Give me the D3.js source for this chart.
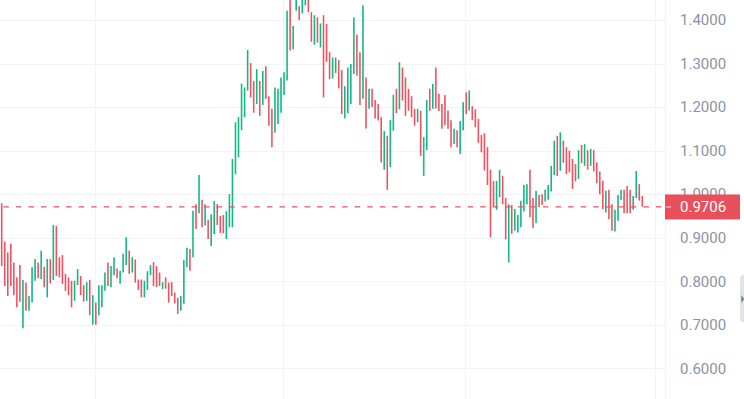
<!DOCTYPE html>
<html><head><meta charset="utf-8">
<script src="https://cdn.jsdelivr.net/npm/d3@7"></script>
<style>
html,body{margin:0;padding:0;background:#fff;overflow:hidden}
svg{display:block}
</style></head>
<body>
<svg id="c" width="744" height="399"></svg>
<script>
// Bar highs and lows (price), one entry per session
const highs = [
0.979,0.891,0.866,0.886,0.843,0.809,0.837,0.803,0.797,0.766,0.832,0.851,0.843,0.870,0.833,0.851,0.851,0.929,0.927,0.855,
0.860,0.817,0.809,0.801,0.801,0.828,0.812,0.791,0.798,0.803,0.768,0.751,0.791,0.791,0.820,0.843,0.835,0.855,0.829,0.824,
0.863,0.901,0.870,0.855,0.850,0.804,0.804,0.801,0.823,0.837,0.844,0.835,0.820,0.798,0.809,0.797,0.798,0.774,0.762,0.766,
0.849,0.877,0.874,0.962,0.977,1.044,0.987,0.977,0.941,0.954,0.984,0.977,0.950,0.952,0.961,1.000,1.081,1.165,1.177,1.254,
1.245,1.331,1.301,1.260,1.287,1.260,1.283,1.294,1.225,1.196,1.245,1.242,1.268,1.280,1.421,1.464,1.386,1.460,1.432,1.469,
1.455,1.464,1.418,1.411,1.406,1.392,1.411,1.391,1.326,1.314,1.314,1.308,1.285,1.248,1.291,1.299,1.406,1.366,1.326,1.434,
1.268,1.242,1.242,1.216,1.207,1.177,1.145,1.134,1.170,1.228,1.242,1.303,1.291,1.268,1.242,1.225,1.196,1.196,1.191,1.131,
1.216,1.242,1.253,1.291,1.230,1.207,1.228,1.192,1.170,1.150,1.147,1.168,1.211,1.234,1.238,1.202,1.195,1.173,1.136,1.140,
1.108,1.056,1.030,1.030,1.056,1.042,0.991,0.977,0.975,0.966,0.952,0.985,1.021,1.023,1.056,0.991,1.008,0.998,1.000,1.010,
1.021,1.065,1.123,1.134,1.142,1.123,1.108,1.100,1.081,1.069,1.101,1.113,1.115,1.101,1.104,1.101,1.073,1.052,1.031,1.008,
1.010,0.977,0.964,0.998,1.010,1.010,1.019,1.010,0.996,1.053,1.023,0.996
];
const lows = [
0.835,0.789,0.766,0.789,0.768,0.740,0.753,0.692,0.732,0.732,0.751,0.801,0.807,0.805,0.786,0.763,0.795,0.803,0.812,0.809,
0.794,0.778,0.768,0.740,0.755,0.791,0.768,0.753,0.755,0.722,0.700,0.700,0.722,0.740,0.778,0.789,0.786,0.814,0.807,0.794,
0.820,0.837,0.817,0.820,0.797,0.780,0.763,0.763,0.780,0.814,0.789,0.787,0.789,0.782,0.783,0.751,0.766,0.749,0.725,0.732,
0.748,0.832,0.824,0.855,0.920,0.956,0.924,0.928,0.897,0.881,0.908,0.929,0.911,0.910,0.897,0.924,0.924,1.046,1.085,1.147,
1.177,1.238,1.222,1.187,1.207,1.180,1.205,1.219,1.157,1.108,1.141,1.161,1.187,1.228,1.261,1.330,1.333,1.421,1.400,1.415,
1.434,1.418,1.350,1.343,1.348,1.337,1.222,1.304,1.264,1.266,1.278,1.243,1.184,1.174,1.186,1.207,1.276,1.272,1.205,1.219,
1.151,1.196,1.200,1.174,1.169,1.073,1.056,1.010,1.062,1.146,1.186,1.195,1.215,1.180,1.192,1.177,1.157,1.165,1.088,1.042,
1.101,1.191,1.196,1.197,1.191,1.150,1.159,1.150,1.108,1.115,1.108,1.092,1.147,1.184,1.192,1.170,1.154,1.118,1.096,1.054,
1.021,0.901,0.971,0.964,0.993,0.977,0.896,0.843,0.909,0.916,0.912,0.924,0.960,0.977,0.947,0.922,0.933,0.970,0.975,0.983,
0.987,1.006,1.044,1.042,1.054,1.072,1.046,1.050,1.012,1.029,1.035,1.071,1.065,1.056,1.065,1.052,1.025,1.000,0.966,0.958,
0.943,0.916,0.914,0.939,0.987,0.956,0.956,0.956,0.964,0.991,0.985,0.971
];
// Direction of each bar: u = closed up (green), d = closed down (red)
const dirs = [
"d","d","d","d","d","d","d","u","d","u",  "u","u","d","u","d","u","d","u","d","d",
"d","d","d","d","u","u","d","d","u","d",  "u","d","u","u","u","d","u","u","d","u",
"u","u","d","u","d","d","d","u","u","u",  "d","d","d","u","d","d","d","d","d","u",
"u","u","d","u","d","u","d","u","d","u",  "u","d","d","d","u","u","u","u","u","u",
"u","u","d","d","u","d","u","d","d","d",  "u","u","u","u","u","d","u","u","d","u",
"u","d","d","u","d","u","d","d","d","u",  "u","d","d","u","u","u","u","d","d","u",
"d","u","d","d","d","d","u","d","u","u",  "d","u","d","d","d","d","d","u","d","u",
"u","d","u","d","d","d","d","d","d","u",  "d","u","u","d","u","d","d","d","d","d",
"d","d","d","u","u","d","d","u","d","u",  "u","u","u","u","d","d","u","d","d","u",
"u","u","u","d","u","d","d","d","d","d",  "u","d","u","d","u","d","d","d","d","u",
"d","d","u","u","u","d","d","d","u","u",  "d","d"
];
const lastPrice = 0.9706;
const priceTicks = [0.6, 0.7, 0.8, 0.9, 1.0, 1.1, 1.2, 1.3, 1.4];
// time grid lines, in bar-index units
const timeGrid = [30.7, 92.7, 152.6, 215.2];

const W = 744, H = 399, plotRight = 665;
const upColor = "#12b886", downColor = "#ef5261";
const svg = d3.select("#c");

const x = d3.scaleLinear().domain([0, highs.length - 1]).range([1.7, 642.3]);
const y = d3.scaleLinear().domain([0.6, 1.4]).range([368.3, 20]);

// grid
const grid = svg.append("g");
grid.selectAll("line.h").data(priceTicks).join("line")
  .attr("x1", 0).attr("x2", plotRight)
  .attr("y1", d => Math.round(y(d)) + 0.5).attr("y2", d => Math.round(y(d)) + 0.5)
  .attr("stroke", "#f2f3f6").attr("stroke-width", 1);
grid.selectAll("line.v").data(timeGrid).join("line")
  .attr("x1", d => Math.round(x(d)) + 0.5).attr("x2", d => Math.round(x(d)) + 0.5)
  .attr("y1", 0).attr("y2", H)
  .attr("stroke", "#f2f3f6").attr("stroke-width", 1);
svg.append("line").attr("x1", plotRight + 0.5).attr("x2", plotRight + 0.5)
  .attr("y1", 0).attr("y2", H).attr("stroke", "#f2f3f6");

// bars
const bars = highs.map((h, i) => ({i, h, l: lows[i], d: dirs[i]}));
const clip = svg.append("clipPath").attr("id", "pc").append("rect")
  .attr("x", 0).attr("y", 0).attr("width", plotRight).attr("height", H);
svg.append("g").attr("clip-path", "url(#pc)")
  .selectAll("line").data(bars).join("line")
  .attr("x1", d => x(d.i)).attr("x2", d => x(d.i))
  .attr("y1", d => y(d.h)).attr("y2", d => y(d.l))
  .attr("stroke", d => d.d === "u" ? upColor : downColor)
  .attr("stroke-width", 1.6);

// last price dashed line
svg.append("line")
  .attr("x1", 3.3).attr("x2", plotRight)
  .attr("y1", y(lastPrice)).attr("y2", y(lastPrice))
  .attr("stroke", downColor).attr("stroke-width", 1.3)
  .attr("stroke-dasharray", "5.5,7.05");

// price axis
const axis = d3.axisRight(y).tickValues(priceTicks).tickSize(0).tickPadding(15)
  .tickFormat(d3.format(".4f"));
const ag = svg.append("g").attr("transform", `translate(${plotRight},0)`).call(axis);
ag.select(".domain").remove();
ag.selectAll("text").attr("fill", "#8a93a6")
  .style("font-family", "Roboto, 'Noto Sans', sans-serif").style("font-size", "15px");

// last price label
const ly = y(lastPrice);
svg.append("rect").attr("x", plotRight).attr("y", ly - 12.5).attr("width", 75).attr("height", 25)
  .attr("fill", "#e9505b");
svg.append("line").attr("x1", plotRight + 1).attr("x2", plotRight + 6)
  .attr("y1", ly).attr("y2", ly).attr("stroke", "#fbd3d6").attr("stroke-width", 1);
svg.append("text").attr("x", plotRight + 15).attr("y", ly).attr("dy", "0.32em")
  .attr("fill", "#fff").style("font-family", "Roboto, 'Noto Sans', sans-serif")
  .style("font-size", "15px").text(d3.format(".4f")(lastPrice));

// scroll handle at right edge
svg.append("rect").attr("x", 740).attr("y", 275).attr("width", 8).attr("height", 47)
  .attr("rx", 3).attr("fill", "#e1e4ea");
svg.append("path").attr("d", "M741.5,295 L744,299 L741.5,303 Z").attr("fill", "#6b7280");
</script>
</body></html>
